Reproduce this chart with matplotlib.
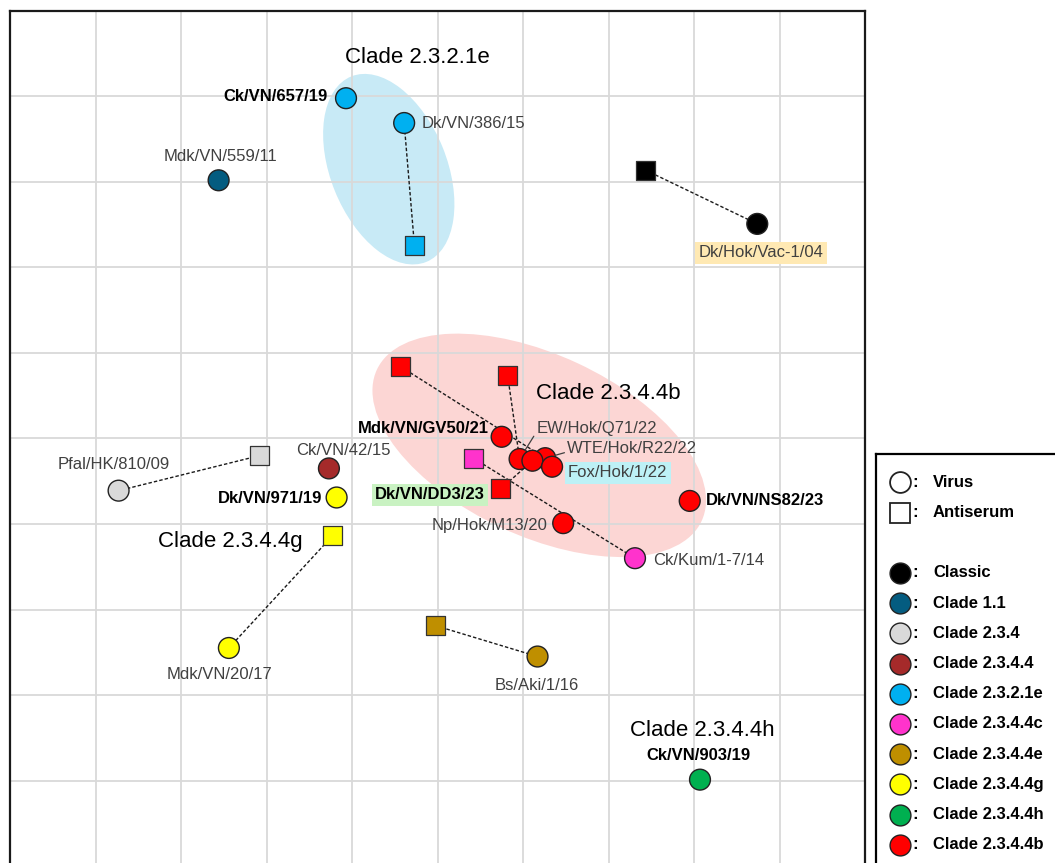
import matplotlib.pyplot as plt
from matplotlib.patches import Ellipse

plt.rcParams['font.family'] = ['Liberation Sans', 'DejaVu Sans']

# clades (legend order) and their fill colours
clade_names = ['Classic', 'Clade 1.1', 'Clade 2.3.4', 'Clade 2.3.4.4', 'Clade 2.3.2.1e',
               'Clade 2.3.4.4c', 'Clade 2.3.4.4e', 'Clade 2.3.4.4g', 'Clade 2.3.4.4h',
               'Clade 2.3.4.4b']
clade_colors = ['#000000', '#045C80', '#D9D9D9', '#A52A2A', '#00B0F0',
                '#FF33CC', '#BF8F00', '#FFFF00', '#00B050', '#FF0000']

# viruses (antigenic map units, 1 unit = 1 grid cell)
virus_names = ['Dk/Hok/Vac-1/04', 'Mdk/VN/559/11', 'Ck/VN/657/19', 'Dk/VN/386/15',
               'Pfal/HK/810/09', 'Ck/VN/42/15', 'Dk/VN/971/19', 'Mdk/VN/20/17',
               'Bs/Aki/1/16', 'Ck/VN/903/19', 'Ck/Kum/1-7/14', 'Mdk/VN/GV50/21',
               'Dk/VN/NS82/23', 'Np/Hok/M13/20', 'EW/Hok/Q71/22', 'WTE/Hok/R22/22',
               'Dk/VN/DD3/23', 'Fox/Hok/1/22']
virus_x = [8.74, 2.44, 3.93, 4.61, 1.27, 3.73, 3.82, 2.56, 6.17, 8.07, 7.31, 5.75,
           7.95, 6.47, 5.96, 6.26, 6.11, 6.34]
virus_y = [7.51, 8.02, 8.98, 8.69, 4.39, 4.65, 4.31, 2.55, 2.45, 1.01, 3.60, 5.02,
           4.27, 4.01, 4.76, 4.77, 4.74, 4.67]
virus_clade = [0, 1, 4, 4, 2, 3, 7, 7, 6, 8, 5, 9, 9, 9, 9, 9, 9, 9]

# antisera and the virus each one was raised against
serum_x = [7.43, 4.73, 2.92, 3.77, 4.98, 5.42, 4.57, 5.82, 5.74]
serum_y = [8.14, 7.26, 4.80, 3.86, 2.81, 4.77, 5.84, 5.74, 4.41]
serum_clade = [0, 4, 2, 7, 6, 5, 9, 9, 9]
serum_virus = [0, 3, 4, 7, 8, 10, 15, 14, 16]

# clade ellipses
ell_cx = [4.43, 6.19]
ell_cy = [8.15, 4.92]
ell_w = [2.34, 4.19]
ell_h = [1.36, 2.12]
ell_angle = [112, -25]
ell_color = ['#C8EAF6', '#FCD6D4']

# clade titles
title_text = ['Clade 2.3.2.1e', 'Clade 2.3.4.4b', 'Clade 2.3.4.4g', 'Clade 2.3.4.4h']
title_x = [4.76, 7.00, 2.58, 8.10]
title_y = [9.46, 5.53, 3.79, 1.58]

# strain labels: (text, on 'v'irus or 's'erum, index, dx px, dy px, ha, bold, background)
labels = [
    ('Dk/Hok/Vac-1/04', 'v', 0, 4, -29, 'center', False, '#FFE9B3'),
    ('Mdk/VN/559/11', 'v', 1, 2, 24, 'center', False, None),
    ('Ck/VN/657/19', 'v', 2, -18, 2, 'right', True, None),
    ('Dk/VN/386/15', 'v', 3, 17, 0, 'left', False, None),
    ('Pfal/HK/810/09', 'v', 4, -5, 26, 'center', False, None),
    ('Ck/VN/42/15', 'v', 5, 14, 18, 'center', False, None),
    ('Dk/VN/971/19', 'v', 6, -14, -1, 'right', True, None),
    ('Mdk/VN/20/17', 'v', 7, -9, -27, 'center', False, None),
    ('Bs/Aki/1/16', 'v', 8, -1, -29, 'center', False, None),
    ('Ck/VN/903/19', 'v', 9, -2, 24, 'center', True, None),
    ('Ck/Kum/1-7/14', 'v', 10, 18, -2, 'left', False, None),
    ('Mdk/VN/GV50/21', 'v', 11, -13, 8, 'right', True, None),
    ('Dk/VN/NS82/23', 'v', 12, 16, 0, 'left', True, None),
    ('Np/Hok/M13/20', 'v', 13, -16, -2, 'right', False, None),
    ('Fox/Hok/1/22', 'v', 17, 16, -6, 'left', False, '#BDF1F6'),
    ('Dk/VN/DD3/23', 's', 8, -16, -6, 'right', True, '#C9F2C2'),
]
# labels with a short leader line
leader_text = ['EW/Hok/Q71/22', 'WTE/Hok/R22/22']
leader_virus = [14, 15]
leader_dx = [17, 22]
leader_dy = [31, 10]

fig = plt.figure(figsize=(10.55, 8.63), dpi=100)
ax = fig.add_axes([10 / 1055, -3 / 863, 855 / 1055, 855 / 863])
ax.set_xlim(0, 10)
ax.set_ylim(0, 10)
ax.set_xticks(range(1, 10))
ax.set_yticks(range(1, 10))
ax.tick_params(length=0, labelbottom=False, labelleft=False)
ax.grid(color='#D9D9D9', lw=1.3)
ax.set_axisbelow(True)
for s in ax.spines.values():
    s.set_linewidth(1.6)
    s.set_color('#1a1a1a')

for i in range(len(ell_cx)):
    ax.add_patch(Ellipse((ell_cx[i], ell_cy[i]), ell_w[i], ell_h[i], angle=ell_angle[i],
                         facecolor=ell_color[i], edgecolor='none', zorder=0.2))

for i in range(len(serum_x)):
    v = serum_virus[i]
    ax.plot([serum_x[i], virus_x[v]], [serum_y[i], virus_y[v]], color='#1a1a1a',
            lw=1.0, ls=(0, (2.5, 1.5)), zorder=2)

ax.scatter(serum_x, serum_y, marker='s', s=13.7 ** 2,
           c=[clade_colors[c] for c in serum_clade], edgecolors='#333333',
           linewidths=0.9, zorder=3)
ax.scatter(virus_x, virus_y, s=15 ** 2,
           c=[clade_colors[c] for c in virus_clade], edgecolors='#222222',
           linewidths=1.0, zorder=4)

for t, x, y in zip(title_text, title_x, title_y):
    ax.text(x, y, t, fontsize=16, ha='center', va='center', color='black', zorder=5)

for text, kind, idx, dx, dy, ha, bold, bg in labels:
    if kind == 'v':
        xy = (virus_x[idx], virus_y[idx])
    else:
        xy = (serum_x[idx], serum_y[idx])
    kw = {}
    if bg:
        kw['bbox'] = dict(boxstyle='square,pad=0.2', fc=bg, ec='none')
    ax.annotate(text, xy, xytext=(dx, dy), textcoords='offset pixels', ha=ha, va='center',
                fontsize=12, fontweight='bold' if bold else 'normal',
                color='black' if bold else '#404040', zorder=6, **kw)

for t, v, dx, dy in zip(leader_text, leader_virus, leader_dx, leader_dy):
    ax.annotate(t, (virus_x[v], virus_y[v]), xytext=(dx, dy), textcoords='offset pixels',
                ha='left', va='center', fontsize=12, color='#404040', zorder=6,
                arrowprops=dict(arrowstyle='-', color='#404040', lw=0.9,
                                shrinkA=0, shrinkB=7.5, relpos=(0, 0.25)))

# legend box (runs off the right and bottom edges)
lax = fig.add_axes([876 / 1055, -20 / 863, 200 / 1055, 429 / 863])
lax.set_xlim(876, 1076)
lax.set_ylim(883, 454)
lax.set_xticks([])
lax.set_yticks([])
lax.spines['right'].set_visible(False)
lax.spines['bottom'].set_visible(False)
lax.spines['top'].set_linewidth(1.6)
lax.spines['left'].set_linewidth(1.6)

legend_rows = ['Virus', 'Antiserum', ''] + clade_names
legend_marker = ['o', 's', None] + ['o'] * len(clade_names)
legend_fill = ['white', 'white', None] + clade_colors
for k, (lab, m, fc) in enumerate(zip(legend_rows, legend_marker, legend_fill)):
    if m is None:
        continue
    y = 482.3 + 30.2 * k
    lax.plot(900, y, marker=m, ms=15 if m == 'o' else 14, mfc=fc, mec='#222222',
             mew=1.3 if fc == 'white' else 1.0, ls='none')
    lax.text(915, y, ':', fontsize=12, fontweight='bold', ha='center', va='center')
    lax.text(933, y, lab, fontsize=12, fontweight='bold', ha='left', va='center')

fig.savefig('out.png', dpi=100)
